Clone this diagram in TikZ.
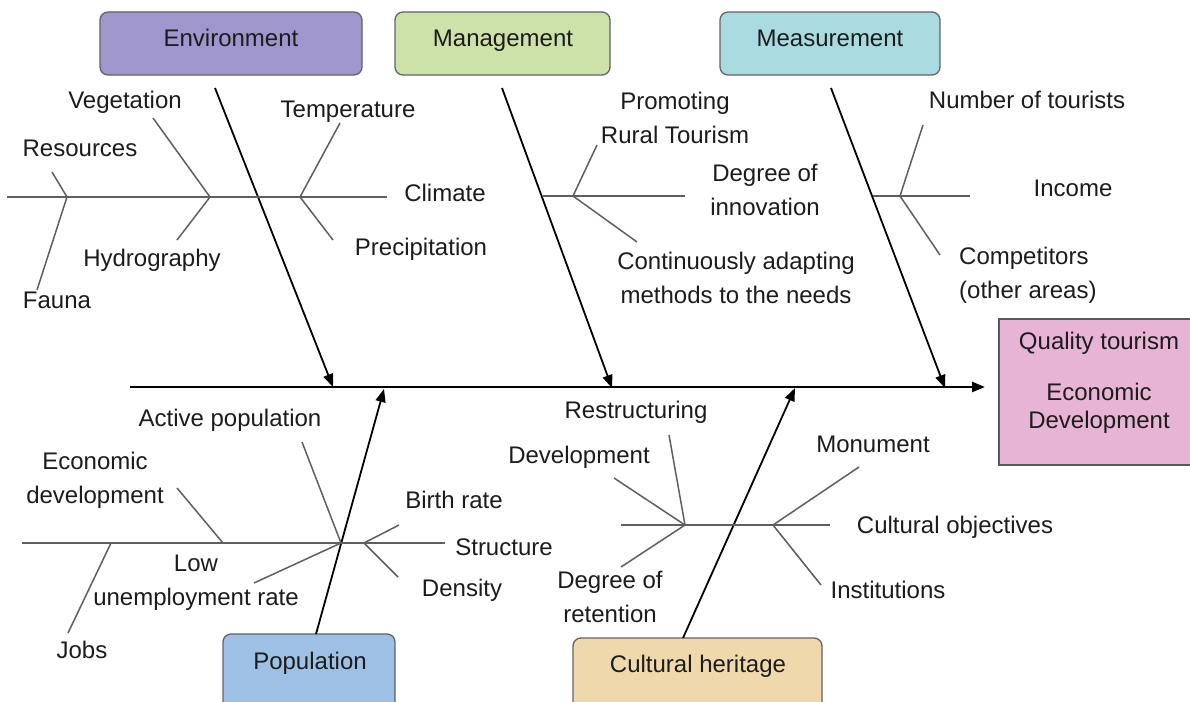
\documentclass[tikz,border=0pt]{standalone}
\usepackage{fontspec}
\setmainfont{Liberation Sans}
\usetikzlibrary{arrows.meta}
\definecolor{envfill}{RGB}{158,150,205}
\definecolor{mgmtfill}{RGB}{205,226,168}
\definecolor{measfill}{RGB}{168,218,224}
\definecolor{popfill}{RGB}{157,192,228}
\definecolor{herfill}{RGB}{239,216,172}
\definecolor{goalfill}{RGB}{232,180,214}
\definecolor{bonegray}{RGB}{95,95,95}
\definecolor{boxgray}{RGB}{100,100,100}
\definecolor{txt}{RGB}{28,28,28}

\begin{document}
\begin{tikzpicture}[x=1pt,y=-1pt,
  catbox/.style={draw=boxgray,line width=1.3pt,rounded corners=8pt},
  cause/.style={line width=1.8pt,-{Triangle[length=13pt,width=10pt]}},
  bone/.style={draw=bonegray,line width=1.5pt},
  lbl/.style={text=txt,inner sep=0pt,align=center,font=\fontsize{24}{34}\selectfont}]
\fill[white] (0,0) rectangle (1190,701);
\useasboundingbox (0,0) rectangle (1190,701);

% category boxes
\filldraw[catbox,fill=envfill] (100,12) rectangle (362,75);
\node[lbl,anchor=base] (env) at (231,46) {Environment};
\filldraw[catbox,fill=mgmtfill] (395,12) rectangle (610,75);
\node[lbl,anchor=base] (mgmt) at (503,46) {Management};
\filldraw[catbox,fill=measfill] (720,12) rectangle (940,75);
\node[lbl,anchor=base] (meas) at (830,46) {Measurement};
\filldraw[catbox,fill=popfill] (223,634) rectangle (395,712);
\node[lbl,anchor=base] (pop) at (310,669) {Population};
\filldraw[catbox,fill=herfill] (573,638) rectangle (822,712);
\node[lbl,anchor=base] (her) at (698,672) {Cultural heritage};

% effect
\filldraw[draw=black!65,line width=1.3pt,fill=goalfill] (999,319) rectangle (1194,465);
\node[lbl] (goal) at (1099,343) {Quality tourism};
\node[lbl,font=\fontsize{24}{28}\selectfont] (goaldev) at (1099,408) {Economic\\Development};

% spine and main causes
\foreach \name/\x/\y in {spinestart/130/387, spineend/985/387,
    envtail/215/88, envhead/333/387, mgmttail/502/88, mgmthead/612/388,
    meastail/831/88, meashead/945/388, poptail/316/634, pophead/384/389,
    hertail/683/638, herhead/795/388}
  \coordinate (\name) at (\x,\y);
\draw[line width=2.6pt,-{Triangle[length=13pt,width=10pt]}] (spinestart) -- (spineend);
\foreach \c in {env,mgmt,meas,pop,her}
  \draw[cause] (\c tail) -- (\c head);

% sub causes
\foreach \name/\x/\y in {e0/7/197, e1/387/197, ej1/67/197, ej2/210/197, ej3/300/197,
    eres/52/172, efau/37/290, eveg/153/118, ehyd/177/240, etem/340/123, epre/333/240,
    m0/542/196, m1/685/196, mj/573/196, mpro/597/145, mcon/637/242,
    s0/873/196, s1/970/196, sj/900/196, snum/923/125, scom/940/255,
    p0/22/543, p1/445/543, pj1/111/543, pj2/223/543, pj3/341/543, pj4/364/543,
    pjob/68/633, peco/177/488, pact/302/442, plow/254/583, pbir/399/525, pden/398/577,
    h0/621/525, h1/830/525, hj1/685/525, hj2/773/525,
    hres/669/435, hdev/614/478, hret/621/567, hmon/859/467, hins/821/585}
  \coordinate (\name) at (\x,\y);
\foreach \a/\b in {e0/e1, ej1/eres, ej1/efau, ej2/eveg, ej2/ehyd, ej3/etem, ej3/epre,
    m0/m1, mj/mpro, mj/mcon, s0/s1, sj/snum, sj/scom,
    p0/p1, pj1/pjob, pj2/peco, pj3/pact, pj3/plow, pj4/pbir, pj4/pden,
    h0/h1, hj1/hres, hj1/hdev, hj1/hret, hj2/hmon, hj2/hins}
  \draw[bone] (\a) -- (\b);

% labels
\node[lbl] (veg) at (125,102) {Vegetation};
\node[lbl] (res) at (80,148) {Resources};
\node[lbl] (hyd) at (152,260) {Hydrography};
\node[lbl] (fau) at (57,300) {Fauna};
\node[lbl] (tem) at (348,112) {Temperature};
\node[lbl] (cli) at (445,193) {Climate};
\node[lbl] (pre) at (421,249) {Precipitation};
\node[lbl] (pro) at (675,118) {Promoting\\Rural Tourism};
\node[lbl] (inn) at (765,190) {Degree of\\innovation};
\node[lbl] (con) at (736,278) {Continuously adapting\\methods to the needs};
\node[lbl] (num) at (1027,100) {Number of tourists};
\node[lbl] (inc) at (1073,188) {Income};
\node[lbl,anchor=west,align=left] (com) at (959,275) {Competitors\\(other areas)};
\node[lbl] (act) at (230,420) {Active population};
\node[lbl] (eco) at (95,480) {Economic\\development};
\node[lbl] (bir) at (454,500) {Birth rate};
\node[lbl] (str) at (504,547) {Structure};
\node[lbl] (den) at (462,590) {Density};
\node[lbl] (low) at (196,583) {Low\\unemployment rate};
\node[lbl] (job) at (82,650) {Jobs};
\node[lbl] (rst) at (636,412) {Restructuring};
\node[lbl] (dev) at (579,457) {Development};
\node[lbl] (ret) at (610,597) {Degree of\\retention};
\node[lbl] (mon) at (873,444) {Monument};
\node[lbl] (obj) at (955,527) {Cultural objectives};
\node[lbl] (ins) at (888,590) {Institutions};
\end{tikzpicture}
\end{document}
